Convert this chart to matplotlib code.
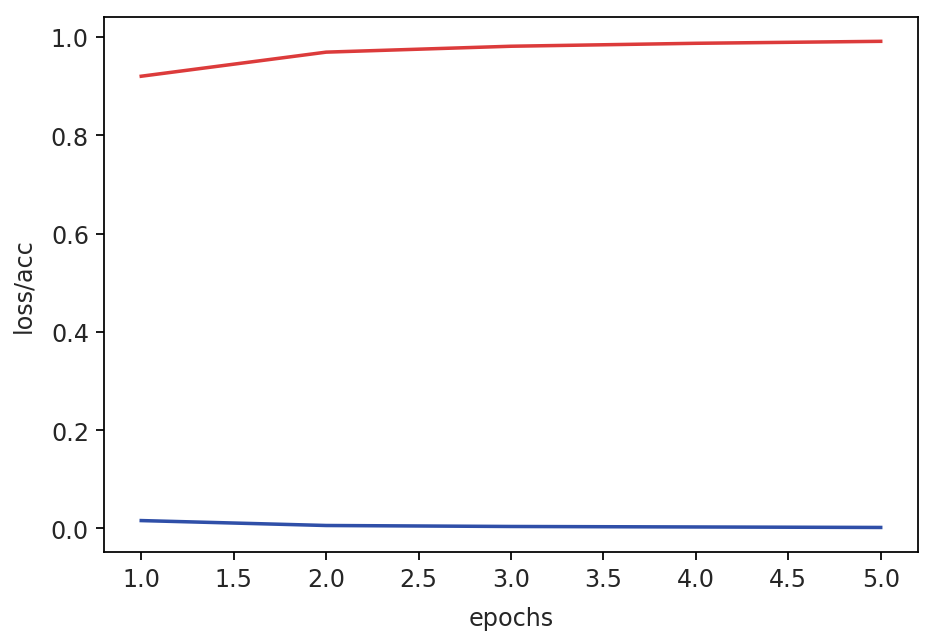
import numpy as np
import matplotlib.pyplot as plt

# values
epochs = [1, 2, 3, 4, 5]
acc = [0.920, 0.969, 0.981, 0.987, 0.991]
loss = [0.016, 0.006, 0.004, 0.003, 0.002]

plt.rcParams['font.size'] = 10.9
plt.rcParams['text.color'] = '#262626'
plt.rcParams['axes.labelcolor'] = '#262626'
plt.rcParams['xtick.labelcolor'] = '#262626'
plt.rcParams['ytick.labelcolor'] = '#262626'

fig = plt.figure(figsize=(6.0, 4.063), dpi=158)
ax = fig.add_axes([0.110, 0.139, 0.858, 0.833])

ax.plot(epochs, acc, color='#dc3b3b', lw=1.6)
ax.plot(epochs, loss, color='#2f4fa8', lw=1.6)

ax.set_xlabel('epochs', labelpad=7)
ax.set_ylabel('loss/acc', labelpad=7)

fig.savefig('out.png', dpi=158)
